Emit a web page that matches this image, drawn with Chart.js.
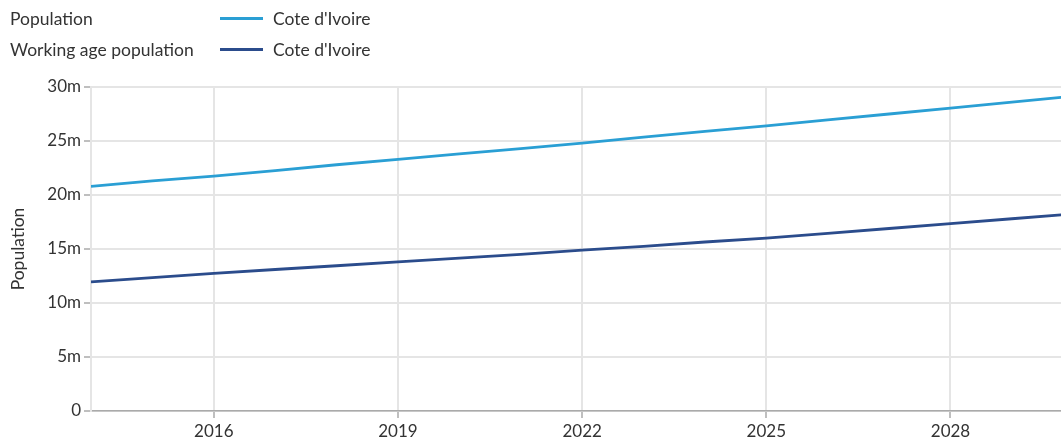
<!DOCTYPE html>
<html>
<head>
<meta charset="utf-8">
<script src="https://cdn.jsdelivr.net/npm/chart.js@4"></script>
<style>
  html, body { margin: 0; padding: 0; background: #fff; }
  body { width: 1061px; height: 441px; position: relative; overflow: hidden; font-family: Lato, "Open Sans", sans-serif; }
  #legend { position: absolute; left: 10px; top: 3px; font-size: 17.5px; color: #333; }
  .row { display: flex; align-items: center; height: 31px; }
  .row .name { width: 210px; }
  .row .swatch { width: 43px; height: 3px; margin-right: 10px; }
  #wrap { position: absolute; left: 0; top: 0; width: 1061px; height: 441px; }
</style>
</head>
<body>
<div id="wrap"><canvas id="chart"></canvas></div>
<div id="legend"></div>
<script>
// ------------------------------------------------------------
// Cote d'Ivoire - population vs working age population (m)
// ------------------------------------------------------------
const years = [2014, 2015, 2016, 2017, 2018, 2019, 2020, 2021, 2022, 2023, 2024, 2025, 2026, 2027, 2028, 2029, 2030];
const population = [20.8, 21.3, 21.75, 22.25, 22.8, 23.3, 23.8, 24.3, 24.8, 25.35, 25.9, 26.4, 26.95, 27.5, 28.05, 28.6, 29.15];
const workingAge = [11.95, 12.35, 12.75, 13.1, 13.45, 13.8, 14.15, 14.5, 14.9, 15.25, 15.65, 16.0, 16.45, 16.9, 17.35, 17.8, 18.25];
const xTicks = [2016, 2019, 2022, 2025, 2028];
const yTicks = [0, 5, 10, 15, 20, 25, 30];

const series = [
  { group: "Population", label: "Cote d'Ivoire", values: population, color: "#2a9fd4" },
  { group: "Working age population", label: "Cote d'Ivoire", values: workingAge, color: "#2b4c8c" }
];

const legend = document.getElementById("legend");
series.forEach(s => {
  const row = document.createElement("div");
  row.className = "row";
  row.innerHTML = `<span class="name">${s.group}</span><span class="swatch" style="background:${s.color}"></span><span>${s.label}</span>`;
  legend.appendChild(row);
});

const font = { family: "Lato, 'Open Sans', sans-serif", size: 17 };
const titleFont = { family: "Lato, 'Open Sans', sans-serif", size: 17.5 };
const gridColor = "#e5e5e5";
const tickColor = "#aaaaaa";

new Chart(document.getElementById("chart").getContext("2d"), {
  type: "line",
  data: {
    datasets: series.map(s => ({
      label: s.group,
      data: years.map((y, i) => ({ x: y, y: s.values[i] })),
      borderColor: s.color,
      backgroundColor: s.color,
      borderWidth: 2.8,
      pointRadius: 0,
      tension: 0,
      fill: false
    }))
  },
  options: {
    responsive: true,
    maintainAspectRatio: false,
    animation: false,
    layout: { padding: { top: 87, right: 0, left: 4, bottom: 0 } },
    plugins: { legend: { display: false }, tooltip: { enabled: false } },
    scales: {
      x: {
        type: "linear",
        min: 2014,
        max: 2029.8,
        afterBuildTicks: axis => { axis.ticks = xTicks.map(v => ({ value: v })); },
        afterFit: axis => { axis.height = 30; },
        ticks: { color: "#333", font, padding: 3, maxRotation: 0, callback: v => String(v) },
        grid: { color: gridColor, lineWidth: 2, tickColor: tickColor, tickLength: 7, tickWidth: 1.5 },
        border: { color: tickColor, width: 1.5 }
      },
      y: {
        min: 0,
        max: 30,
        afterBuildTicks: axis => { axis.ticks = yTicks.map(v => ({ value: v })); },
        afterFit: axis => { axis.width = 87; },
        ticks: { color: "#333", font, padding: 3, callback: v => v === 0 ? "0" : v + "m" },
        grid: { color: gridColor, lineWidth: 2, tickColor: tickColor, tickLength: 7, tickWidth: 1.5 },
        border: { color: gridColor, width: 2 },
        title: { display: true, text: "Population", color: "#333", font: titleFont, padding: 4 }
      }
    }
  }
});
</script>
</body>
</html>
